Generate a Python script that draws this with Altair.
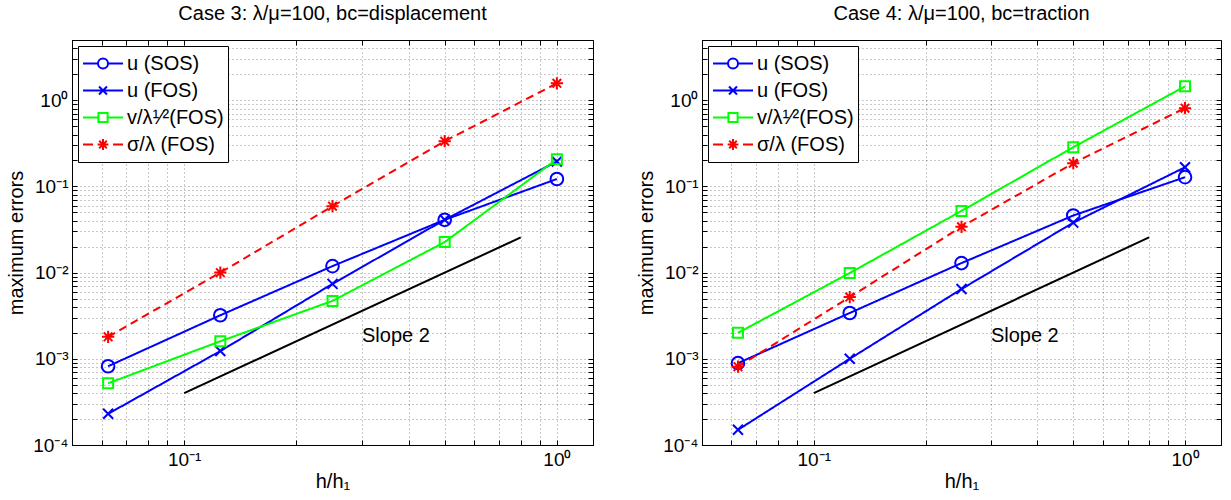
import altair as alt
import pandas as pd

# Mesh ratio h/h1 for the five refinement levels
h = [1 / 16, 1 / 8, 1 / 4, 1 / 2, 1.0]

series_names = ["u (SOS)", "u (FOS)", "v/λ¹⁄²(FOS)", "σ/λ (FOS)"]

# Case 3: lambda/mu = 100, displacement boundary conditions
case3_u_sos = [8.2e-4, 3.2e-3, 1.19e-2, 4.1e-2, 1.22e-1]
case3_u_fos = [2.3e-4, 1.23e-3, 7.4e-3, 4.1e-2, 1.95e-1]
case3_v_fos = [5.2e-4, 1.6e-3, 4.7e-3, 2.26e-2, 2.07e-1]
case3_sig_fos = [1.8e-3, 1.0e-2, 5.9e-2, 3.35e-1, 1.57]

# Case 4: lambda/mu = 100, traction boundary conditions
case4_u_sos = [8.9e-4, 3.4e-3, 1.29e-2, 4.6e-2, 1.28e-1]
case4_u_fos = [1.5e-4, 1.0e-3, 6.45e-3, 3.8e-2, 1.67e-1]
case4_v_fos = [2.0e-3, 9.9e-3, 5.2e-2, 2.85e-1, 1.45]
case4_sig_fos = [8.1e-4, 5.2e-3, 3.4e-2, 1.86e-1, 8.1e-1]

# Reference slope-2 line and its label
slope_h = [0.1, 0.8]
slope_err = [4.0e-4, 2.56e-2]
slope_text = "Slope 2"
slope_text_h = 0.3
slope_text_err = 1.85e-3

titles = ["Case 3: λ/μ=100, bc=displacement", "Case 4: λ/μ=100, bc=traction"]

# Tick positions (major + minor) and the labels shown at powers of ten
x_tick_values = [0.05, 0.06, 0.07, 0.08, 0.09, 0.1, 0.2, 0.3, 0.4, 0.5, 0.6, 0.7, 0.8, 0.9, 1.0]
y_tick_values = [round(m * 10.0 ** e, 12) for e in (-4, -3, -2, -1) for m in range(1, 10)] + [1, 2, 3, 4, 5]
x_label_exps = [-1, 0]
x_label_texts = ["10⁻¹", "10⁰"]
y_label_exps = [-4, -3, -2, -1, 0]
y_label_texts = ["10⁻⁴", "10⁻³", "10⁻²", "10⁻¹", "10⁰"]

FONT = "Liberation Sans"
colors = ["#0000ff", "#0000ff", "#00ff00", "#ff0000"]
dashes = [[1, 0], [1, 0], [1, 0], [8, 5]]

# Marker glyphs (SVG paths in the unit square)
circle_path = "M-1,0A1,1 0 1,1 1,0A1,1 0 1,1 -1,0Z"
x_path = "M-1,-1L1,1M-1,1L1,-1"
square_path = "M-1,-1L1,-1L1,1L-1,1Z"
star_path = "M-1,0L1,0M0,-1L0,1M-0.7,-0.7L0.7,0.7M-0.7,0.7L0.7,-0.7"
marker_paths = [circle_path, x_path, square_path, star_path]
marker_sizes = [160, 100, 100, 150]

# Legend glyphs: a short line through a small marker
legend_paths = [
    "M-1,0L-0.25,0M0.25,0L1,0M-0.25,0A0.25,0.25 0 1,1 0.25,0A0.25,0.25 0 1,1 -0.25,0Z",
    "M-1,0L1,0M-0.2,-0.2L0.2,0.2M-0.2,0.2L0.2,-0.2",
    "M-1,0L-0.23,0M0.23,0L1,0M-0.23,-0.23L0.23,-0.23L0.23,0.23L-0.23,0.23Z",
    "M-1,0L-0.5,0M0.5,0L1,0M-0.27,0L0.27,0M0,-0.27L0,0.27M-0.19,-0.19L0.19,0.19M-0.19,0.19L0.19,-0.19",
]


def power_label_expr(exps, texts):
    expr = "''"
    for e, t in zip(reversed(exps), reversed(texts)):
        expr = f"abs(log(datum.value)/LN10 - ({e})) < 1e-6 ? '{t}' : {expr}"
    return expr


x_scale = alt.Scale(type="log", domain=[0.05, 1.25], nice=False)
y_scale = alt.Scale(type="log", domain=[1e-4, 5], nice=False)

# Main axes: labels, titles and dotted grid
x_axis = alt.Axis(
    values=x_tick_values, labelExpr=power_label_expr(x_label_exps, x_label_texts),
    title="h/h₁", labelOverlap=False, labelFlush=False, labelPadding=5, titlePadding=2,
)
y_axis = alt.Axis(
    values=y_tick_values, labelExpr=power_label_expr(y_label_exps, y_label_texts),
    title="maximum errors", labelOverlap=False, labelFlush=False, labelPadding=4, titlePadding=6,
)


# Inward tick marks on every side of the box
def tick_axis(values, orient):
    return alt.Axis(
        values=values, orient=orient, offset=-5, tickSize=5, ticks=True, tickColor="black",
        tickWidth=1, labels=False, domain=False, grid=False, title=None,
    )


def panel(title, values, width):
    frames = []
    for name, vals in zip(series_names, values):
        frames.append(pd.DataFrame({"h": h, "err": vals, "series": name}))
    df = pd.concat(frames, ignore_index=True)
    base = alt.Chart(df)
    X = alt.X("h:Q", scale=x_scale, axis=x_axis)
    Y = alt.Y("err:Q", scale=y_scale, axis=y_axis)
    Xn = alt.X("h:Q", scale=x_scale, axis=None)
    Yn = alt.Y("err:Q", scale=y_scale, axis=None)

    layers = []
    for i, name in enumerate(series_names):
        sub = base.transform_filter(alt.datum.series == name)
        layers.append(
            sub.mark_line(color=colors[i], strokeWidth=2, strokeDash=dashes[i], clip=True).encode(
                x=X if i == 0 else Xn, y=Y if i == 0 else Yn
            )
        )
    for i, name in enumerate(series_names):
        sub = base.transform_filter(alt.datum.series == name)
        layers.append(
            sub.mark_point(
                shape=marker_paths[i], size=marker_sizes[i], color=colors[i],
                filled=False, strokeWidth=2, opacity=1,
            ).encode(x=Xn, y=Yn)
        )

    slope_df = pd.DataFrame({"h": slope_h, "err": slope_err})
    layers.append(
        alt.Chart(slope_df).mark_line(color="black", strokeWidth=2).encode(
            x=alt.X("h:Q", scale=x_scale, axis=tick_axis(x_tick_values, "bottom")),
            y=alt.Y("err:Q", scale=y_scale, axis=tick_axis(y_tick_values, "left")),
        )
    )
    text_df = pd.DataFrame({"h": [slope_text_h], "err": [slope_text_err], "label": [slope_text]})
    layers.append(
        alt.Chart(text_df).mark_text(
            align="left", baseline="middle", font=FONT, fontSize=20, color="black"
        ).encode(
            x=alt.X("h:Q", scale=x_scale, axis=tick_axis(x_tick_values, "top")),
            y=alt.Y("err:Q", scale=y_scale, axis=tick_axis(y_tick_values, "right")),
            text="label:N",
        )
    )

    # Legend built from the series scale only (no marks drawn)
    legend_layer = base.transform_filter("false").mark_point(
        filled=False, strokeWidth=2, size=1600, opacity=1
    ).encode(
        x=Xn, y=Yn,
        color=alt.Color(
            "series:N",
            scale=alt.Scale(domain=series_names, range=colors),
            legend=alt.Legend(title=None, orient="top-left"),
        ),
        shape=alt.Shape(
            "series:N",
            scale=alt.Scale(domain=series_names, range=legend_paths),
            legend=alt.Legend(title=None, orient="top-left"),
        ),
    )
    layers.append(legend_layer)

    return alt.layer(*layers).resolve_axis(x="independent", y="independent").properties(
        width=width, height=405,
        title=alt.TitleParams(title, font=FONT, fontSize=20, fontWeight="normal", color="black", offset=7),
    )


left = panel(titles[0], [case3_u_sos, case3_u_fos, case3_v_fos, case3_sig_fos], 521)
right = panel(titles[1], [case4_u_sos, case4_u_fos, case4_v_fos, case4_sig_fos], 519)

chart = alt.hconcat(left, right, spacing=42).resolve_scale(
    color="independent", shape="independent"
).properties(
    padding={"left": 6, "top": 3, "right": 0, "bottom": 0}
).configure_view(
    stroke="black", strokeWidth=1
).configure_axis(
    labelFont=FONT, labelFontSize=19, labelColor="black",
    titleFont=FONT, titleFontSize=20, titleFontWeight="normal", titleColor="black",
    domainColor="black", domainWidth=1, ticks=False,
    grid=True, gridColor="#000000", gridOpacity=0.55, gridDash=[1, 3], gridWidth=0.8,
).configure_legend(
    labelFont=FONT, labelFontSize=20, labelColor="black",
    strokeColor="black", fillColor="white", padding=4, offset=6, cornerRadius=0,
    symbolSize=1600, symbolStrokeWidth=2, rowPadding=0, clipHeight=27, labelOffset=3,
).configure_point(opacity=1)

chart.save("out.html", embed_options={"renderer": "svg", "actions": False})
